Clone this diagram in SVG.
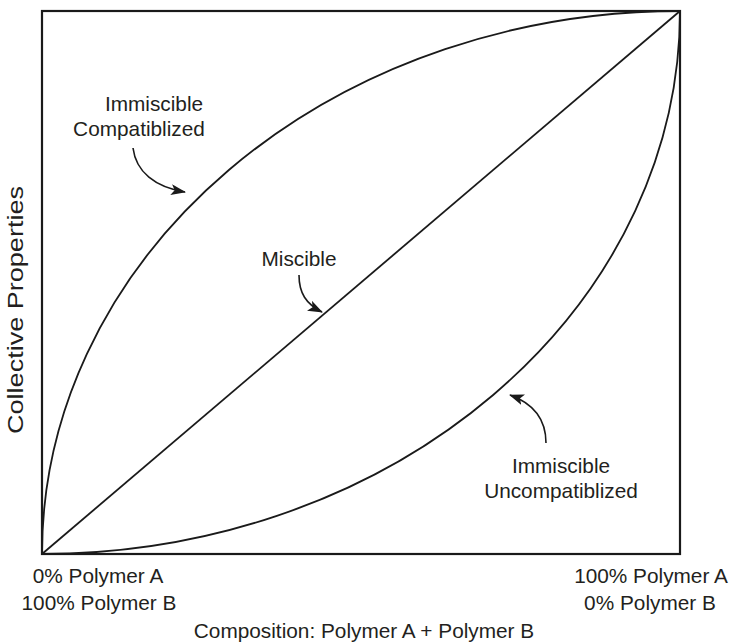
<svg xmlns="http://www.w3.org/2000/svg" width="731" height="642" viewBox="0 0 731 642">
<defs>
<style>
.t{font-family:"Liberation Sans",Arial,Helvetica,sans-serif;font-size:20.8px;fill:#231f20;text-anchor:middle}
.c{fill:none;stroke:#1a1a1a;stroke-width:1.8}
.a{fill:none;stroke:#1a1a1a;stroke-width:1.6}
</style>
<marker id="ah" viewBox="0 0 15 11" refX="14" refY="5.5" markerWidth="15" markerHeight="11" markerUnits="userSpaceOnUse" orient="auto">
<path d="M0,0 L15,5.5 L0,11 L3.5,5.5 z" fill="#1a1a1a"/>
</marker>
</defs>
<rect width="731" height="642" fill="#ffffff"/>
<g id="frame">
<rect x="42" y="11" width="638" height="543" fill="none" stroke="#1a1a1a" stroke-width="2.2"/>
</g>
<g id="curves">
<path id="compatibilized" class="c" d="M42,554 A638,543 0 0 1 680,11"/>
<path id="miscible" class="c" d="M42,554 L680,11"/>
<path id="uncompatibilized" class="c" d="M42,554 A638,543 0 0 0 680,11"/>
</g>
<g id="connectors">
<path class="a" d="M133,148 C136,172 155,187 185,192" marker-end="url(#ah)"/>
<path class="a" d="M299,275 C299,293 306,304 322,312" marker-end="url(#ah)"/>
<path class="a" d="M546,443 C546,420 535,404 510,395" marker-end="url(#ah)"/>
</g>
<g id="label-compatibilized">
<text class="t" x="154" y="110.5">Immiscible</text>
<text class="t" x="139" y="135.5">Compatiblized</text>
</g>
<g id="label-miscible">
<text class="t" x="299" y="265.5">Miscible</text>
</g>
<g id="label-uncompatibilized">
<text class="t" x="561" y="472.5">Immiscible</text>
<text class="t" x="561" y="497.5">Uncompatiblized</text>
</g>
<g id="axis-labels">
<text class="t" x="98" y="582.5">0% Polymer A</text>
<text class="t" x="99" y="609.5">100% Polymer B</text>
<text class="t" x="651" y="582.5">100% Polymer A</text>
<text class="t" x="650" y="609.5">0% Polymer B</text>
<text class="t" x="364" y="638">Composition: Polymer A + Polymer B</text>
<text class="t" transform="translate(23,310) rotate(-90)" style="font-size:22px" textLength="248" lengthAdjust="spacingAndGlyphs">Collective Properties</text>
</g>
</svg>
